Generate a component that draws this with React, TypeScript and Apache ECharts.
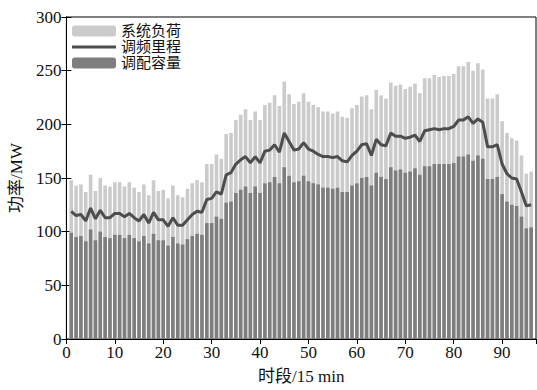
import React, { useEffect, useRef } from "react";
import * as echarts from "echarts";

const periods: number[] = Array.from({ length: 96 }, (_, i) => i + 1);

const systemLoad: number[] = [
  148, 143, 144, 137, 153, 138, 150, 143, 142, 146, 146, 142, 146, 141, 137, 144, 134, 148, 138, 139, 131, 143, 134, 132,
  140, 145, 148, 146, 163, 163, 172, 168, 191, 192, 204, 209, 214, 204, 212, 204, 218, 220, 227, 217, 240, 228, 219, 221,
  229, 221, 218, 216, 212, 212, 210, 212, 207, 206, 215, 218, 226, 227, 214, 232, 227, 224, 239, 236, 237, 233, 235, 238,
  229, 243, 243, 246, 244, 245, 245, 247, 254, 254, 258, 250, 257, 251, 224, 224, 228, 203, 192, 187, 185, 171, 154, 156,
];

const regCapacity: number[] = [
  99, 95, 96, 91, 102, 92, 100, 95, 94, 97, 97, 94, 97, 94, 91, 96, 89, 98, 92, 92, 87, 95, 89, 88,
  93, 96, 98, 97, 108, 108, 114, 112, 127, 128, 136, 139, 142, 136, 142, 136, 145, 146, 151, 145, 160, 152, 146, 147,
  152, 147, 145, 144, 141, 141, 140, 141, 137, 137, 143, 145, 150, 151, 143, 155, 151, 149, 160, 157, 158, 155, 156, 159,
  153, 161, 161, 163, 163, 163, 163, 164, 170, 170, 172, 166, 171, 168, 149, 149, 151, 135, 128, 125, 124, 114, 103, 104,
];

const regMileage: number[] = [
  119, 115, 116, 110, 122, 112, 120, 113, 113, 117, 117, 114, 117, 113, 110, 116, 108, 118, 111, 111, 105, 113, 106, 106,
  111, 116, 119, 118, 130, 131, 137, 135, 153, 155, 163, 167, 170, 164, 170, 164, 175, 176, 181, 174, 192, 184, 176, 177,
  183, 177, 175, 172, 170, 170, 169, 170, 166, 165, 171, 175, 181, 182, 171, 186, 181, 180, 192, 189, 189, 187, 188, 190,
  184, 194, 195, 196, 195, 196, 196, 198, 204, 204, 207, 201, 205, 202, 179, 179, 181, 163, 154, 150, 149, 137, 124, 125,
];

const seriesNames = ["系统负荷", "调频里程", "调配容量"];
const xAxisName = "时段/15 min";
const yAxisName = "功率/MW";

const FONT = "'Liberation Serif', 'Noto Sans CJK SC', serif";

export default function App() {
  const ref = useRef<HTMLDivElement>(null);
  useEffect(() => {
    if (!ref.current) return;
    const chart = echarts.init(ref.current, undefined, { renderer: "svg" });
    const pair = (arr: number[]) => arr.map((v, i) => [periods[i], v]);
    const tickCommon = { inside: true, length: 5, lineStyle: { color: "#000", width: 1 } };
    chart.setOption({
      animation: false,
      backgroundColor: "#fff",
      textStyle: { fontFamily: FONT },
      grid: { left: 64.5, right: 1, top: 17, bottom: 38.5, show: true, borderColor: "#000", borderWidth: 1, backgroundColor: "transparent" },
      legend: {
        orient: "vertical",
        left: 67,
        top: 18,
        itemWidth: 44,
        itemHeight: 11,
        itemGap: 0,
        data: [
          { name: seriesNames[0] },
          { name: seriesNames[1], icon: "path://M0,0 H44 V3 H0 Z" },
          { name: seriesNames[2] },
        ],
        textStyle: { fontFamily: FONT, fontSize: 15, color: "#111", lineHeight: 16 },
      },
      xAxis: [
        {
          type: "value",
          min: 0,
          max: 97,
          interval: 10,
          name: xAxisName,
          nameLocation: "middle",
          nameGap: 29,
          nameTextStyle: { fontFamily: FONT, fontSize: 17, color: "#111" },
          axisLine: { show: true, lineStyle: { color: "#000" } },
          axisTick: tickCommon,
          axisLabel: { fontFamily: FONT, fontSize: 17, color: "#111", margin: 5, showMaxLabel: false },
          splitLine: { show: false },
        },
        {
          type: "value",
          position: "top",
          min: 0,
          max: 97,
          interval: 10,
          axisLine: { show: true, lineStyle: { color: "#000" } },
          axisTick: tickCommon,
          axisLabel: { show: false },
          splitLine: { show: false },
        },
      ],
      yAxis: [
        {
          type: "value",
          min: 0,
          max: 300,
          interval: 50,
          name: yAxisName,
          nameLocation: "middle",
          nameGap: 36,
          nameTextStyle: { fontFamily: FONT, fontSize: 17, color: "#111" },
          axisLine: { show: true, lineStyle: { color: "#000" } },
          axisTick: tickCommon,
          axisLabel: { fontFamily: FONT, fontSize: 17, color: "#111", margin: 5 },
          splitLine: { show: false },
        },
        {
          type: "value",
          position: "right",
          min: 0,
          max: 300,
          interval: 50,
          axisLine: { show: true, lineStyle: { color: "#000" } },
          axisTick: tickCommon,
          axisLabel: { show: false },
          splitLine: { show: false },
        },
      ],
      series: [
        {
          name: seriesNames[0],
          type: "bar",
          data: pair(systemLoad),
          barWidth: 3.6,
          barGap: "-100%",
          itemStyle: { color: "#cbcbcb" },
          z: 1,
        },
        {
          name: seriesNames[2],
          type: "bar",
          data: pair(regCapacity),
          barWidth: 3.6,
          barGap: "-100%",
          itemStyle: { color: "#7e7e7e" },
          z: 2,
        },
        {
          name: seriesNames[1],
          type: "line",
          data: pair(regMileage),
          symbol: "none",
          lineStyle: { color: "#4d4d4d", width: 3 },
          itemStyle: { color: "#4d4d4d" },
          z: 3,
        },
      ],
    });
    return () => chart.dispose();
  }, []);
  return <div ref={ref} style={{ position: "fixed", left: 0, top: 0, width: 537, height: 390 }} />;
}
